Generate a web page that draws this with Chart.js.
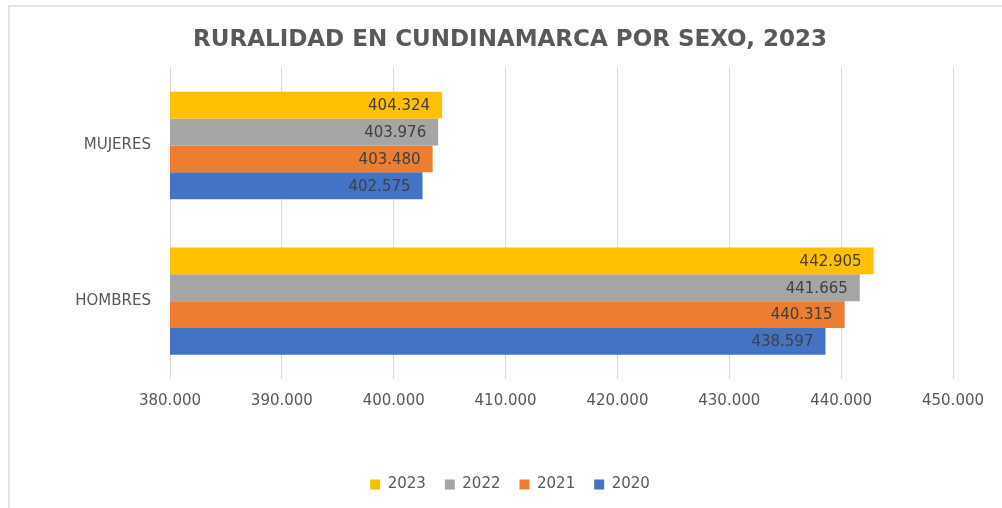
<!DOCTYPE html>
<html>
<head>
<meta charset="utf-8">
<script src="https://cdn.jsdelivr.net/npm/chart.js@4.4.1/dist/chart.umd.min.js"></script>
<style>
    html, body { margin: 0; padding: 0; background: #fff; }
    #wrap { position: relative; width: 1002px; height: 508px; overflow: hidden; }
    #frame {
        position: absolute; left: 8px; top: 5px; width: 1100px; height: 600px;
        border-top: 2px solid #e4e4e4; border-left: 2px solid #e4e4e4;
    }
    canvas { position: absolute; left: 0; top: 0; }
</style>
</head>
<body>
<div id="wrap">
    <div id="frame"></div>
    <canvas id="chart" width="1002" height="508"></canvas>
</div>
<script>
// categories and series
const categories = ['MUJERES', 'HOMBRES'];
const years = ['2023', '2022', '2021', '2020'];
const values2023 = [404324, 442905];
const values2022 = [403976, 441665];
const values2021 = [403480, 440315];
const values2020 = [402575, 438597];
const axisMin = 380000;
const axisMax = 450000;
const axisStep = 10000;

const colors = ['#FFC000', '#A5A5A5', '#ED7D31', '#4472C4'];
const textGray = '#595959';
const FONT = "'DejaVu Sans', sans-serif";

function formatNumber(v) {
    return String(Math.round(v)).replace(/\B(?=(\d{3})+(?!\d))/g, '.');
}

// value labels inside the end of each bar
const barLabels = {
    id: 'barLabels',
    afterDatasetsDraw(chart) {
        const ctx = chart.ctx;
        ctx.save();
        ctx.font = `15px ${FONT}`;
        ctx.fillStyle = '#404040';
        ctx.textAlign = 'right';
        ctx.textBaseline = 'middle';
        chart.data.datasets.forEach((ds, i) => {
            const meta = chart.getDatasetMeta(i);
            meta.data.forEach((bar, j) => {
                ctx.fillText(formatNumber(ds.data[j]), bar.x - 12, bar.y + 1);
            });
        });
        ctx.restore();
    }
};

const seriesValues = [values2023, values2022, values2021, values2020];

new Chart(document.getElementById('chart').getContext('2d'), {
    type: 'bar',
    data: {
        labels: categories,
        datasets: years.map((y, i) => ({
            label: y,
            data: seriesValues[i],
            backgroundColor: colors[i],
            borderWidth: 0,
            categoryPercentage: 0.69,
            barPercentage: 1
        }))
    },
    options: {
        indexAxis: 'y',
        responsive: false,
        animation: false,
        layout: { padding: { top: 10, left: 67, right: 49, bottom: 6 } },
        plugins: {
            title: {
                display: true,
                text: 'RURALIDAD EN CUNDINAMARCA POR SEXO, 2023',
                color: textGray,
                font: { family: FONT, size: 23, weight: 'bold' },
                padding: { top: 16, bottom: 14 }
            },
            legend: {
                position: 'bottom',
                labels: {
                    color: textGray,
                    font: { family: FONT, size: 15 },
                    boxWidth: 10,
                    boxHeight: 10,
                    padding: 19
                }
            },
            tooltip: { enabled: false }
        },
        scales: {
            x: {
                min: axisMin,
                max: axisMax,
                ticks: {
                    stepSize: axisStep,
                    color: textGray,
                    font: { family: FONT, size: 15 },
                    padding: 13,
                    callback: v => formatNumber(v)
                },
                grid: { color: '#d9d9d9', drawTicks: false },
                border: { display: false },
                afterFit(scale) { scale.height = 79; }
            },
            y: {
                ticks: {
                    color: textGray,
                    font: { family: FONT, size: 15 },
                    padding: 19
                },
                grid: { display: false, drawTicks: false },
                border: { display: false },
                afterFit(scale) { scale.width = 103; }
            }
        }
    },
    plugins: [barLabels]
});
</script>
</body>
</html>
